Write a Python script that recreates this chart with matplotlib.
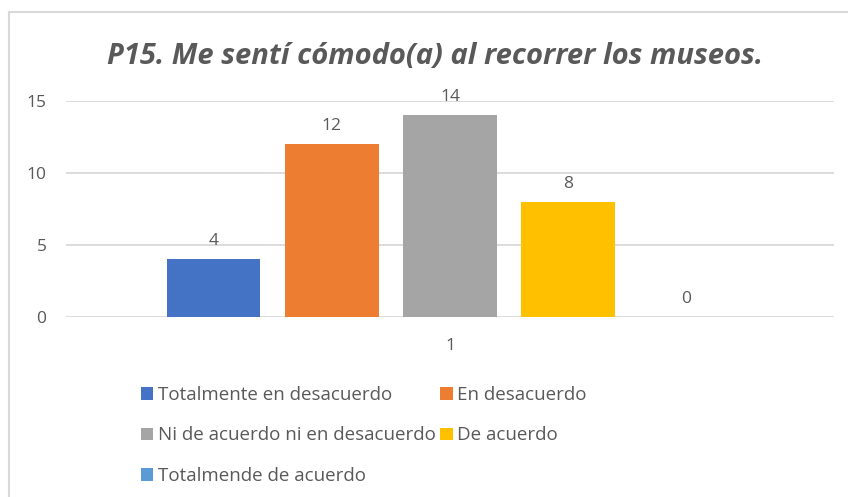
import matplotlib.pyplot as plt
from matplotlib.patches import Patch
from matplotlib.lines import Line2D

# Chart data
series = ['Totalmente en desacuerdo', 'En desacuerdo',
          'Ni de acuerdo ni en desacuerdo', 'De acuerdo',
          'Totalmende de acuerdo']
values = [4, 12, 14, 8, 0]
category = ['1']
colors = ['#4472C4', '#ED7D31', '#A5A5A5', '#FFC000', '#5B9BD5']

text_color = '#595959'
grid_color = '#D9D9D9'
plt.rcParams['font.family'] = ['Open Sans', 'DejaVu Sans']

fig = plt.figure(figsize=(8.48, 4.97), dpi=100)
ax = fig.add_axes([66 / 848, 180 / 497, 768 / 848, 216 / 497])

# Bars
xs = list(range(len(values)))
ax.bar(xs, values, width=0.79, color=colors, zorder=3)
for x, v in zip(xs, values):
    ax.text(x, v + 0.7, str(v), ha='center', va='bottom',
            fontsize=12.5, color=text_color, clip_on=False)

ax.set_xlim(-1.25, len(values) - 1 + 1.25)
ax.set_ylim(0, 15)
ax.set_yticks([0, 5, 10, 15])
ax.set_xticks([(len(values) - 1) / 2])
ax.set_xticklabels(category)
ax.tick_params(axis='both', length=0, labelsize=12.5, labelcolor=text_color)
ax.tick_params(axis='y', pad=14)
ax.tick_params(axis='x', pad=15)
ax.grid(axis='y', color=grid_color, linewidth=1.3, zorder=0)
for s in ax.spines.values():
    s.set_visible(False)

# Title
fig.text(435 / 848, 1 - 56 / 497, 'P15. Me sentí cómodo(a) al recorrer los museos.',
         ha='center', va='center', fontsize=21, fontweight='bold', style='italic',
         color=text_color, family=['Open Sans', 'DejaVu Sans'])

# Legend, filled row by row like the original
handles = [Patch(facecolor=c, edgecolor='none') for c in colors]
order = [0, 2, 4, 1, 3]
fig.legend([handles[i] for i in order], [series[i] for i in order],
           ncol=2, loc='upper left', bbox_to_anchor=(141 / 848, 1 - 386 / 497),
           frameon=False, fontsize=13.5, labelcolor=text_color,
           handlelength=0.65, handleheight=0.65, handletextpad=0.25,
           columnspacing=0.25, labelspacing=1.2, borderpad=0, borderaxespad=0)

# Outer frame of the chart
fig.add_artist(Line2D([9 / 848, 1], [1 - 12 / 497, 1 - 12 / 497],
                      color=grid_color, linewidth=1.5))
fig.add_artist(Line2D([9 / 848, 9 / 848], [0, 1 - 12 / 497],
                      color=grid_color, linewidth=1.5))

fig.savefig('out.png', dpi=100)
